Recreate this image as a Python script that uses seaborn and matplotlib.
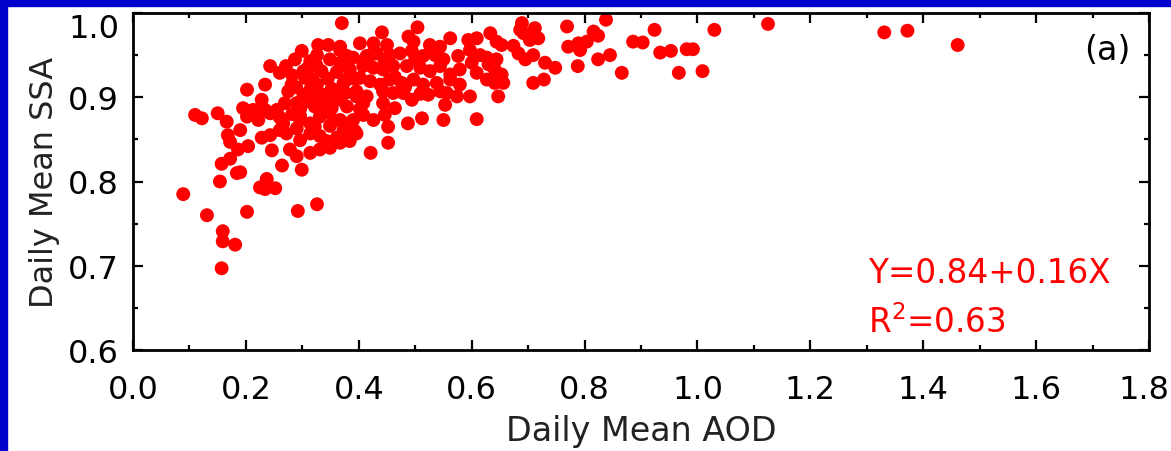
import matplotlib
matplotlib.use("Agg")
import matplotlib.pyplot as plt
import matplotlib.patches as mpatches
import matplotlib.transforms as mtransforms
from matplotlib.ticker import MultipleLocator
import seaborn as sns
import pandas as pd

# Daily mean AOD (x) and daily mean SSA (y)
aod = [
    0.110, 0.122, 0.150, 0.166, 0.190, 0.195, 0.168, 0.172, 0.186, 0.204,
    0.172, 0.157, 0.184, 0.190, 0.154, 0.089, 0.237, 0.225, 0.234, 0.252,
    0.202, 0.131, 0.292, 0.326, 0.159, 0.159, 0.181, 0.157, 0.264, 0.299,
    0.246, 0.370, 0.299, 0.328, 0.346, 0.367, 0.326, 0.243, 0.271, 0.260,
    0.302, 0.305, 0.334, 0.367, 0.379, 0.390, 0.234, 0.202, 0.275, 0.281,
    0.302, 0.314, 0.326, 0.337, 0.355, 0.373, 0.228, 0.213, 0.234, 0.255,
    0.269, 0.290, 0.308, 0.322, 0.337, 0.352, 0.367, 0.379, 0.396, 0.202,
    0.222, 0.243, 0.266, 0.296, 0.314, 0.331, 0.355, 0.373, 0.390, 0.228,
    0.243, 0.260, 0.272, 0.290, 0.296, 0.314, 0.331, 0.343, 0.361, 0.379,
    0.396, 0.278, 0.290, 0.314, 0.331, 0.349, 0.367, 0.384, 0.441, 0.504,
    0.402, 0.426, 0.450, 0.488, 0.497, 0.526, 0.544, 0.562, 0.594, 0.609,
    0.633, 0.644, 0.367, 0.414, 0.432, 0.455, 0.473, 0.494, 0.514, 0.535,
    0.550, 0.576, 0.597, 0.615, 0.627, 0.644, 0.408, 0.426, 0.443, 0.461,
    0.485, 0.509, 0.526, 0.544, 0.562, 0.579, 0.600, 0.609, 0.627, 0.641,
    0.379, 0.402, 0.420, 0.438, 0.455, 0.476, 0.497, 0.514, 0.538, 0.562,
    0.579, 0.376, 0.396, 0.414, 0.443, 0.461, 0.479, 0.494, 0.523, 0.544,
    0.556, 0.574, 0.597, 0.647, 0.408, 0.443, 0.464, 0.553, 0.367, 0.408,
    0.426, 0.446, 0.452, 0.487, 0.512, 0.550, 0.609, 0.373, 0.393, 0.373,
    0.452, 0.421, 0.689, 0.686, 0.712, 0.718, 0.703, 0.692, 0.769, 0.838,
    0.653, 0.674, 0.683, 0.695, 0.709, 0.771, 0.789, 0.804, 0.792, 0.816,
    0.824, 0.886, 0.630, 0.641, 0.653, 0.730, 0.748, 0.788, 0.824, 0.845,
    0.866, 0.656, 0.647, 0.709, 0.728, 0.924, 0.903, 0.934, 0.953, 0.981,
    0.992, 1.030, 1.125, 0.967, 1.009, 1.331, 1.372, 1.461, 0.314, 0.349,
    0.287, 0.317, 0.345, 0.361, 0.384, 0.393, 0.282, 0.289, 0.345, 0.296,
    0.411, 0.423, 0.464, 0.482, 0.509, 0.500, 0.446, 0.402, 0.260, 0.282,
    0.322, 0.349, 0.305, 0.318, 0.332, 0.296, 0.352, 0.310, 0.325, 0.338,
]
ssa = [
    0.879, 0.875, 0.881, 0.871, 0.861, 0.887, 0.855, 0.847, 0.838, 0.842,
    0.827, 0.821, 0.810, 0.811, 0.800, 0.785, 0.803, 0.793, 0.791, 0.792,
    0.764, 0.760, 0.765, 0.773, 0.741, 0.729, 0.725, 0.697, 0.819, 0.814,
    0.837, 0.988, 0.955, 0.962, 0.962, 0.960, 0.950, 0.937, 0.937, 0.929,
    0.931, 0.923, 0.931, 0.941, 0.949, 0.947, 0.915, 0.909, 0.907, 0.915,
    0.903, 0.909, 0.915, 0.903, 0.909, 0.917, 0.897, 0.885, 0.885, 0.885,
    0.893, 0.893, 0.895, 0.889, 0.893, 0.887, 0.897, 0.889, 0.901, 0.877,
    0.873, 0.881, 0.869, 0.873, 0.869, 0.877, 0.873, 0.869, 0.873, 0.852,
    0.855, 0.861, 0.857, 0.863, 0.849, 0.857, 0.854, 0.848, 0.852, 0.857,
    0.857, 0.838, 0.830, 0.834, 0.838, 0.840, 0.846, 0.848, 0.977, 0.983,
    0.964, 0.964, 0.962, 0.972, 0.966, 0.962, 0.960, 0.970, 0.968, 0.970,
    0.976, 0.966, 0.956, 0.949, 0.952, 0.950, 0.952, 0.955, 0.949, 0.950,
    0.945, 0.949, 0.956, 0.950, 0.947, 0.945, 0.937, 0.935, 0.933, 0.937,
    0.937, 0.935, 0.931, 0.937, 0.927, 0.933, 0.941, 0.929, 0.921, 0.917,
    0.921, 0.923, 0.919, 0.915, 0.921, 0.917, 0.921, 0.915, 0.917, 0.921,
    0.915, 0.905, 0.907, 0.901, 0.907, 0.905, 0.905, 0.897, 0.903, 0.907,
    0.905, 0.901, 0.901, 0.901, 0.893, 0.893, 0.887, 0.891, 0.873, 0.879,
    0.873, 0.879, 0.865, 0.869, 0.875, 0.873, 0.874, 0.861, 0.860, 0.850,
    0.846, 0.834, 0.988, 0.980, 0.982, 0.970, 0.968, 0.976, 0.984, 0.992,
    0.962, 0.961, 0.952, 0.945, 0.950, 0.960, 0.964, 0.966, 0.956, 0.978,
    0.973, 0.966, 0.939, 0.933, 0.927, 0.941, 0.935, 0.937, 0.945, 0.950,
    0.929, 0.917, 0.925, 0.917, 0.921, 0.980, 0.965, 0.953, 0.955, 0.957,
    0.957, 0.980, 0.987, 0.929, 0.931, 0.977, 0.979, 0.962, 0.943, 0.945,
    0.945, 0.922, 0.922, 0.930, 0.933, 0.922, 0.926, 0.912, 0.899, 0.886,
    0.945, 0.951, 0.924, 0.912, 0.904, 0.945, 0.943, 0.886, 0.876, 0.880,
    0.865, 0.866, 0.900, 0.900, 0.884, 0.878, 0.910, 0.935, 0.938, 0.882,
]
x_ticks = [0.0, 0.2, 0.4, 0.6, 0.8, 1.0, 1.2, 1.4, 1.6, 1.8]
y_ticks = [0.6, 0.7, 0.8, 0.9, 1.0]
x_label = "Daily Mean AOD"
y_label = "Daily Mean SSA"
fit_text = "Y=0.84+0.16X"
r2_text = "R$^{2}$=0.63"
panel_text = "(a)"

df = pd.DataFrame({"AOD": aod, "SSA": ssa})

sns.set_style("ticks")
plt.rcParams["font.family"] = ["DejaVu Sans"]

W, H = 1171, 452
fig = plt.figure(figsize=(W / 100, H / 100), dpi=100)
fig.patch.set_facecolor("white")
ax = fig.add_axes([133 / W, 1 - 351 / H, (1149 - 133) / W, (351 - 14) / H])

sns.scatterplot(data=df, x="AOD", y="SSA", ax=ax, color="#ff0000",
                s=100, linewidth=0, edgecolor="none", legend=False,
                clip_on=True)

ax.set_xlim(0.0, 1.8)
ax.set_ylim(0.6, 1.0)
ax.set_xticks(x_ticks)
ax.set_yticks(y_ticks)
ax.set_xticklabels([f"{v:.1f}" for v in x_ticks])
ax.set_yticklabels([f"{v:.1f}" for v in y_ticks])
ax.xaxis.set_minor_locator(MultipleLocator(0.1))
ax.yaxis.set_minor_locator(MultipleLocator(0.05))
ax.tick_params(which="both", direction="in", top=True, right=True,
               width=1.6, color="black", labelcolor="black")
ax.tick_params(which="major", length=7.5, labelsize=23)
ax.tick_params(which="minor", length=3.8)
ax.tick_params(axis="x", which="major", pad=17)
ax.tick_params(axis="y", which="major", pad=10)
for lab in ax.get_yticklabels():
    if lab.get_text() == "1.0":
        lab.set_va("top")
shift = mtransforms.ScaledTranslation(-5 / 100, 0, fig.dpi_scale_trans)
for lab in ax.get_xticklabels():
    if lab.get_text() == "1.8":
        lab.set_transform(lab.get_transform() + shift)
for sp in ax.spines.values():
    sp.set_visible(True)
    sp.set_linewidth(2.0)
    sp.set_color("black")

ax.set_xlabel(x_label, fontsize=24, color="#222222", labelpad=7)
ax.set_ylabel(y_label, fontsize=23, color="#222222", labelpad=6)

ax.text(868 / W, 1 - 283 / H, fit_text, transform=fig.transFigure,
        color="#ff0000", fontsize=23.5, ha="left", va="baseline")
ax.text(868 / W, 1 - 333 / H, r2_text, transform=fig.transFigure,
        color="#ff0000", fontsize=23.5, ha="left", va="baseline")
ax.text(1107 / W, 1 - 50 / H, panel_text, transform=fig.transFigure,
        color="black", fontsize=24, ha="center", va="center")

# blue frame along top and left edges
blue = "#0000cc"
fig.patches.append(mpatches.Rectangle((0, 1 - 7 / H), 1, 7 / H,
                                      transform=fig.transFigure,
                                      color=blue, zorder=10))
fig.patches.append(mpatches.Rectangle((0, 0), 7 / W, 1,
                                      transform=fig.transFigure,
                                      color=blue, zorder=10))

fig.savefig("out.png", dpi=100, facecolor="white")
